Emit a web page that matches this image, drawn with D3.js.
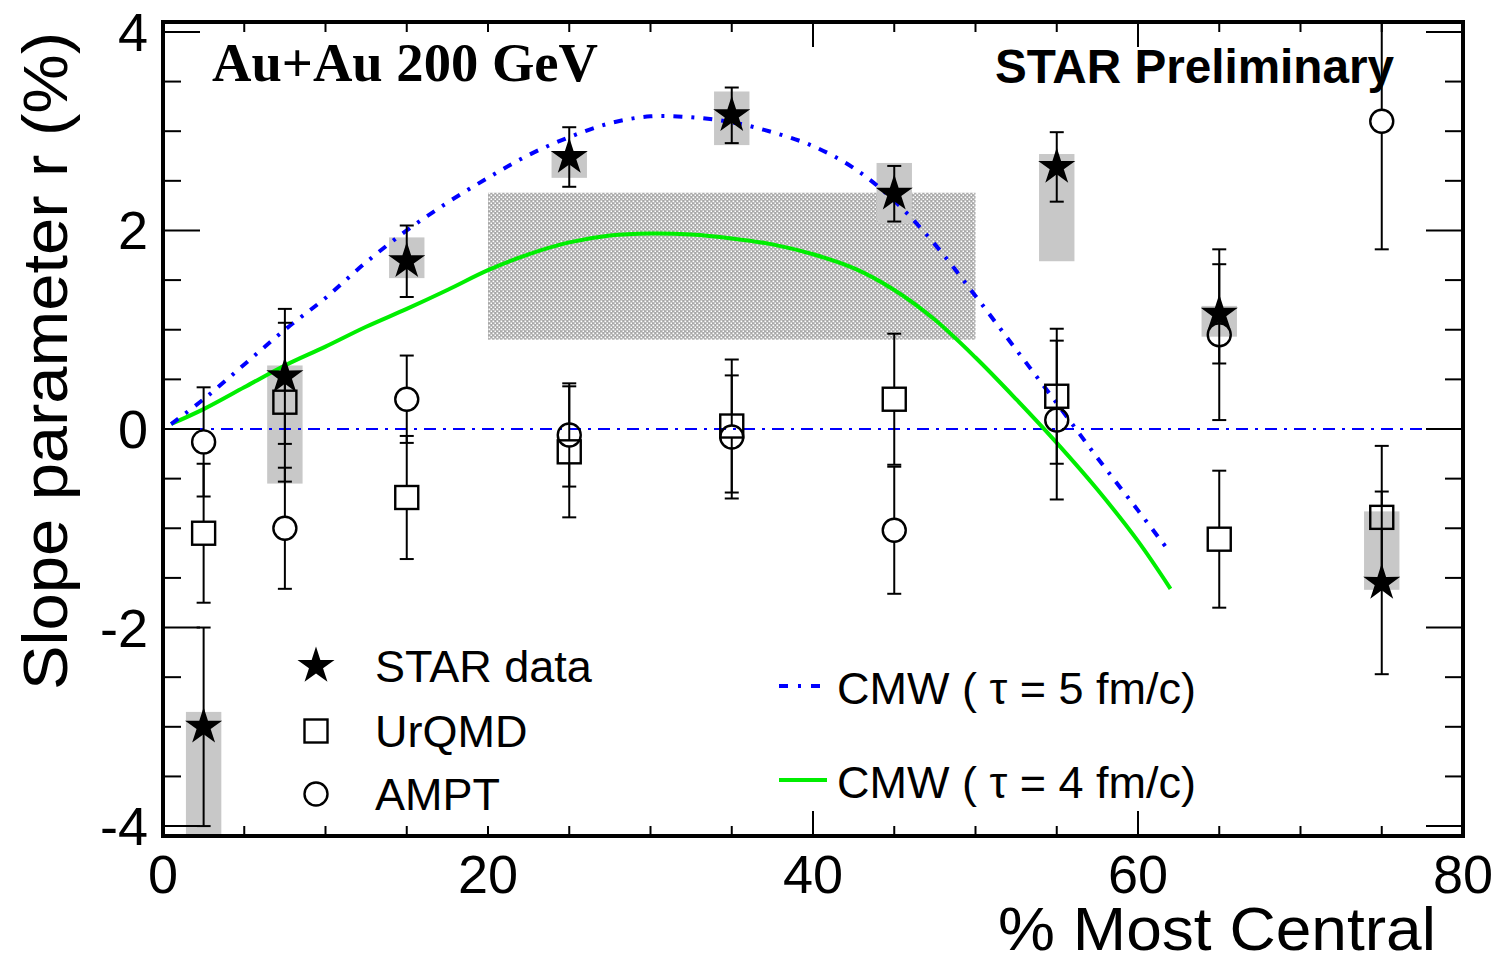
<!DOCTYPE html>
<html><head><meta charset="utf-8">
<script src="https://cdn.jsdelivr.net/npm/d3@7"></script>
<style>body{margin:0;background:#fff}</style>
</head><body><svg id="c" width="1501" height="959" xmlns="http://www.w3.org/2000/svg"></svg>
<script>
// ---------------- data ----------------
const centrality = [2.5, 7.5, 15, 25, 35, 45, 55, 65, 75];
const starY     = [-3.0, 0.53, 1.69, 2.74, 3.16, 2.37, 2.64, 1.16, -1.55];
const starStat  = [1.0, 0.68, 0.36, 0.30, 0.28, 0.28, 0.35, 0.50, 0.92];
const starSysLo = [-4.3, -0.55, 1.52, 2.53, 2.86, 2.07, 1.69, 0.93, -1.62];
const starSysHi = [-2.85, 0.64, 1.93, 2.80, 3.40, 2.68, 2.77, 1.24, -0.83];
const urqmdY    = [-1.05, 0.27, -0.69, -0.23, 0.03, 0.30, 0.33, -1.11, -0.89];
const urqmdErr  = [0.70, 0.80, 0.62, 0.66, 0.67, 0.66, 0.68, 0.69, 0.72];
const amptY     = [-0.13, -1.0, 0.30, -0.06, -0.08, -1.02, 0.09, 0.95, 3.10];
const amptErr   = [0.55, 0.61, 0.44, 0.52, 0.62, 0.64, 0.80, 0.86, 1.29];
const cmw5X = [0.5, 2.5, 5, 7.5, 10, 12.5, 15, 17.5, 20, 22.5, 25, 27.5, 30, 32.5, 35, 37.5, 40, 42.5, 45, 47.5, 50, 52.5, 55, 57.5, 60, 62];
const cmw5Y = [0.05, 0.3, 0.65, 1.0, 1.32, 1.68, 2.0, 2.28, 2.53, 2.76, 2.94, 3.08, 3.15, 3.14, 3.09, 2.99, 2.85, 2.63, 2.3, 1.86, 1.34, 0.8, 0.26, -0.29, -0.82, -1.25];
const cmw4X = [0.5, 2.5, 5, 7.5, 10, 12.5, 15, 17.5, 20, 22.5, 25, 27.5, 30, 32.5, 35, 37.5, 40, 42.5, 45, 47.5, 50, 52.5, 55, 57.5, 60, 62];
const cmw4Y = [0.05, 0.2, 0.42, 0.64, 0.83, 1.03, 1.21, 1.4, 1.6, 1.76, 1.88, 1.95, 1.97, 1.96, 1.92, 1.86, 1.76, 1.62, 1.40, 1.10, 0.72, 0.30, -0.14, -0.61, -1.13, -1.61];
const bandX = [20, 50];
const bandY = [0.9, 2.38];
const xTickLabels = [0, 20, 40, 60, 80];
const yTickLabels = [-4, -2, 0, 2, 4];
const xMinorTicks = d3.range(0, 80.01, 5);
const yMinorTicks = d3.range(-4, 4.01, 0.5);
const legendLeft = ["STAR data", "UrQMD", "AMPT"];
const legendRight = ["CMW ( τ = 5 fm/c)", "CMW ( τ = 4 fm/c)"];

// ---------------- layout ----------------
const L = 163, R = 1463, T = 22, B = 836;
const x = d3.scaleLinear([0, 80], [L, R]);
const y = d3.scaleLinear([-4.1, 4.1], [B, T]);
const svg = d3.select("#c");
const defs = svg.append("defs");
defs.append("clipPath").attr("id", "clip").append("rect")
  .attr("x", L).attr("y", T).attr("width", R - L).attr("height", B - T);
const pat = defs.append("pattern").attr("id", "hatch").attr("patternUnits", "userSpaceOnUse")
  .attr("width", 4).attr("height", 4);
pat.append("rect").attr("width", 4).attr("height", 4).attr("fill", "#a8a8a8");
pat.append("rect").attr("x", 0.5).attr("y", 0.5).attr("width", 1.7).attr("height", 1.7).attr("fill", "#fff");
pat.append("rect").attr("x", 2.5).attr("y", 2.5).attr("width", 1.7).attr("height", 1.7).attr("fill", "#fff");

const plot = svg.append("g").attr("clip-path", "url(#clip)");

// band
plot.append("rect")
  .attr("x", x(bandX[0])).attr("width", x(bandX[1]) - x(bandX[0]))
  .attr("y", y(bandY[1])).attr("height", y(bandY[0]) - y(bandY[1]))
  .attr("fill", "url(#hatch)");

// systematic boxes
const boxHalf = 17.7;
plot.selectAll("rect.sys").data(centrality).join("rect").attr("class", "sys")
  .attr("x", d => x(d) - boxHalf).attr("width", 2 * boxHalf)
  .attr("y", (d, i) => y(starSysHi[i]))
  .attr("height", (d, i) => y(starSysLo[i]) - y(starSysHi[i]))
  .attr("fill", "#c8c8c8");

// zero line
plot.append("line").attr("x1", x(0)).attr("x2", x(80)).attr("y1", y(0)).attr("y2", y(0))
  .attr("stroke", "#0000ff").attr("stroke-width", 2).attr("stroke-dasharray", "12,7,3,7");

// curves
const line = d3.line().x(d => x(d[0])).y(d => y(d[1])).curve(d3.curveCatmullRom.alpha(0.5));
plot.append("path").datum(cmw4X.map((v, i) => [v, cmw4Y[i]])).attr("d", line)
  .attr("fill", "none").attr("stroke", "#00ee00").attr("stroke-width", 4);
plot.append("path").datum(cmw5X.map((v, i) => [v, cmw5Y[i]])).attr("d", line)
  .attr("fill", "none").attr("stroke", "#0000ff").attr("stroke-width", 4).attr("stroke-dasharray", "9,9,3,9");

// error bars
const cap = 7;
function errBars(vals, errs, gap) {
  const g = plot.append("g").attr("stroke", "#000").attr("stroke-width", 2).attr("fill", "none");
  centrality.forEach((c, i) => {
    const cx = x(c), cy = y(vals[i]), yt = y(vals[i] + errs[i]), yb = y(vals[i] - errs[i]);
    if (yt < cy - gap) g.append("line").attr("x1", cx).attr("x2", cx).attr("y1", yt).attr("y2", cy - gap);
    if (yb > cy + gap) g.append("line").attr("x1", cx).attr("x2", cx).attr("y1", cy + gap).attr("y2", yb);
    g.append("line").attr("x1", cx - cap).attr("x2", cx + cap).attr("y1", yt).attr("y2", yt);
    g.append("line").attr("x1", cx - cap).attr("x2", cx + cap).attr("y1", yb).attr("y2", yb);
  });
}
errBars(urqmdY, urqmdErr, 11.5);
errBars(amptY, amptErr, 11.5);
errBars(starY, starStat, 0);

// markers
function starPath(R1, r1) {
  const p = d3.path();
  for (let k = 0; k < 10; k++) {
    const a = -Math.PI / 2 + k * Math.PI / 5, rr = k % 2 ? r1 : R1;
    const px = rr * Math.cos(a), py = rr * Math.sin(a);
    k ? p.lineTo(px, py) : p.moveTo(px, py);
  }
  p.closePath();
  return p.toString();
}
const STAR = starPath(19.5, 7.4);
const SQ = 11.5, CR = 11.5;
plot.selectAll("rect.uq").data(centrality).join("rect").attr("class", "uq")
  .attr("x", d => x(d) - SQ).attr("y", (d, i) => y(urqmdY[i]) - SQ)
  .attr("width", 2 * SQ).attr("height", 2 * SQ)
  .attr("fill", "none").attr("stroke", "#000").attr("stroke-width", 2.4);
plot.selectAll("circle.am").data(centrality).join("circle").attr("class", "am")
  .attr("cx", d => x(d)).attr("cy", (d, i) => y(amptY[i])).attr("r", CR)
  .attr("fill", "none").attr("stroke", "#000").attr("stroke-width", 2.4);
plot.selectAll("path.st").data(centrality).join("path").attr("class", "st")
  .attr("d", STAR).attr("transform", (d, i) => `translate(${x(d)},${y(starY[i])})`)
  .attr("fill", "#000");

// ---------------- axes ----------------
const ax = svg.append("g").attr("stroke", "#000").attr("stroke-width", 2);
xMinorTicks.forEach(v => {
  const len = (v === 40 || v === 60) ? 25 : 10;
  ax.append("line").attr("x1", x(v)).attr("x2", x(v)).attr("y1", B).attr("y2", B - len);
  ax.append("line").attr("x1", x(v)).attr("x2", x(v)).attr("y1", T).attr("y2", T + len);
});
yMinorTicks.forEach(v => {
  const len = yTickLabels.includes(v) ? 37 : 18;
  ax.append("line").attr("x1", L).attr("x2", L + len).attr("y1", y(v)).attr("y2", y(v));
  ax.append("line").attr("x1", R).attr("x2", R - len).attr("y1", y(v)).attr("y2", y(v));
});
svg.append("rect").attr("x", L).attr("y", T).attr("width", R - L).attr("height", B - T)
  .attr("fill", "none").attr("stroke", "#000").attr("stroke-width", 4);

const sans = "'Liberation Sans', Arial, Helvetica, sans-serif";
svg.selectAll("text.xl").data(xTickLabels).join("text").attr("class", "xl")
  .attr("x", d => x(d)).attr("y", 893).attr("text-anchor", "middle")
  .attr("font-family", sans).attr("font-size", 54).text(d => d);
svg.selectAll("text.yl").data(yTickLabels).join("text").attr("class", "yl")
  .attr("x", 148).attr("y", d => y(d) + 19).attr("text-anchor", "end")
  .attr("font-family", sans).attr("font-size", 54).text(d => d);

svg.append("text").attr("x", 998).attr("y", 950)
  .attr("font-family", sans).attr("font-size", 62)
  .attr("textLength", 438).attr("lengthAdjust", "spacingAndGlyphs")
  .text("% Most Central");
svg.append("text").attr("transform", "translate(67,32) rotate(-90)").attr("text-anchor", "end")
  .attr("font-family", sans).attr("font-size", 63)
  .attr("textLength", 658).attr("lengthAdjust", "spacingAndGlyphs")
  .text("Slope parameter r (%)");

svg.append("text").attr("x", 212).attr("y", 81)
  .attr("font-family", "'Liberation Serif', 'Times New Roman', serif").attr("font-weight", "bold")
  .attr("font-size", 54).attr("textLength", 386).attr("lengthAdjust", "spacingAndGlyphs")
  .text("Au+Au 200 GeV");
svg.append("text").attr("x", 995).attr("y", 83)
  .attr("font-family", sans).attr("font-weight", "bold")
  .attr("font-size", 48).attr("textLength", 399).attr("lengthAdjust", "spacingAndGlyphs")
  .text("STAR Preliminary");

// ---------------- legends ----------------
const legY = [666, 731, 794];
svg.append("path").attr("d", STAR).attr("transform", `translate(316,${legY[0]})`).attr("fill", "#000");
svg.append("rect").attr("x", 316 - SQ).attr("y", legY[1] - SQ).attr("width", 2 * SQ).attr("height", 2 * SQ)
  .attr("fill", "none").attr("stroke", "#000").attr("stroke-width", 2.4);
svg.append("circle").attr("cx", 316).attr("cy", legY[2]).attr("r", CR)
  .attr("fill", "none").attr("stroke", "#000").attr("stroke-width", 2.4);
svg.selectAll("text.lg").data(legendLeft).join("text").attr("class", "lg")
  .attr("x", 375).attr("y", (d, i) => legY[i] + 16)
  .attr("font-family", sans).attr("font-size", 45).text(d => d);

const legRY = [686, 780];
svg.append("line").attr("x1", 779).attr("x2", 820).attr("y1", legRY[0]).attr("y2", legRY[0])
  .attr("stroke", "#0000ff").attr("stroke-width", 4).attr("stroke-dasharray", "9,10,3,10");
svg.append("line").attr("x1", 779).attr("x2", 827).attr("y1", legRY[1]).attr("y2", legRY[1])
  .attr("stroke", "#00ee00").attr("stroke-width", 4);
svg.selectAll("text.lr").data(legendRight).join("text").attr("class", "lr")
  .attr("x", 837).attr("y", (d, i) => legRY[i] + 18)
  .attr("font-family", sans).attr("font-size", 45).text(d => d);
</script></body></html>
